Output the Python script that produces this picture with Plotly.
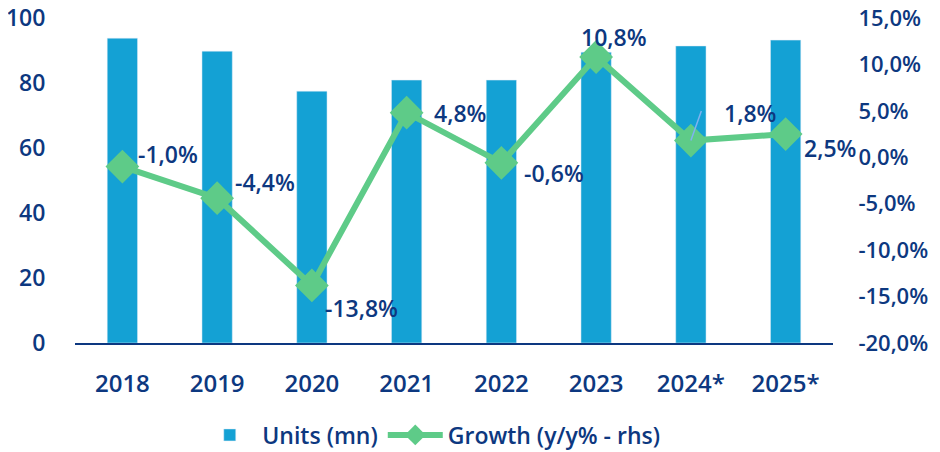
import plotly.graph_objects as go

years = ["2018", "2019", "2020", "2021", "2022", "2023", "2024*", "2025*"]
units_mn = [93.8, 89.8, 77.5, 80.9, 80.9, 89.5, 91.4, 93.2]
growth_pct = [-1.0, -4.4, -13.8, 4.8, -0.6, 10.8, 1.8, 2.5]
rhs_ticks = [-20, -15, -10, -5, 0, 5, 10, 15]

# label offsets (px) for each data label: (xshift, yshift)
label_offsets = [(46, 13), (48, 16), (50, -23), (53, 0), (53, -10), (18, 20), (59, 28), (44, -14)]

NAVY = "#0D3880"
BLUE = "#14A1D4"
GREEN = "#5ECB88"
FONT = "Open Sans"


def pct(v):
    return f"{v:.1f}".replace(".", ",") + "%"


fig = go.Figure()
fig.add_trace(go.Bar(
    x=years, y=units_mn, name="Units (mn)", marker=dict(color=BLUE),
    width=0.32,
))
fig.add_trace(go.Scatter(
    x=years, y=growth_pct, name="Growth (y/y% - rhs)", mode="lines+markers",
    line=dict(color=GREEN, width=6),
    marker=dict(symbol="diamond", size=26, color=GREEN),
    yaxis="y2",
))

# leader line for 2024* label
fig.add_annotation(
    x=6, y=growth_pct[6], yref="y2", xref="x",
    ax=11, ay=-31, axref="pixel", ayref="pixel",
    showarrow=True, arrowhead=0, arrowwidth=1.5, arrowcolor="#7FB2F0", text="",
)

# annotations on a category axis: use category index
for i, (v, (dx, dy)) in enumerate(zip(growth_pct, label_offsets)):
    fig.add_annotation(
        x=i, y=v, yref="y2", xref="x",
        text=pct(v),
        showarrow=False, xshift=dx, yshift=dy,
        font=dict(family=FONT, size=23, color=NAVY, weight=600),
    )

# the page body has an 8px margin, so the figure is 8px smaller on each axis
fig.update_layout(
    width=932, height=444,
    margin=dict(l=67, r=107, t=10, b=109, autoexpand=False),
    paper_bgcolor="white", plot_bgcolor="white",
    font=dict(family=FONT, size=21, color=NAVY, weight=600),
    showlegend=True,
    legend=dict(orientation="h", x=0.47, xanchor="center", y=-0.283, yanchor="middle",
                itemwidth=55,
                font=dict(family=FONT, size=23, color=NAVY, weight=600)),
    xaxis=dict(type="category", categoryorder="array", categoryarray=years,
               range=[-0.5, len(years) - 0.5], automargin=False,
               showgrid=False, showline=True, linecolor=NAVY, linewidth=2,
               ticks="outside", ticklen=18, tickcolor="rgba(0,0,0,0)",
               tickfont=dict(family=FONT, size=24, color=NAVY, weight=600)),
    yaxis=dict(range=[0, 100], dtick=20, showgrid=False, zeroline=False, showline=False,
               automargin=False, ticklabeloverflow="allow",
               ticks="outside", ticklen=24, tickcolor="rgba(0,0,0,0)",
               tickfont=dict(family=FONT, size=23, color=NAVY, weight=600)),
    yaxis2=dict(range=[-20, 15], overlaying="y", side="right", showgrid=False,
                zeroline=False, showline=False, automargin=False,
                ticklabeloverflow="allow",
                tickvals=rhs_ticks, ticktext=[pct(t) for t in rhs_ticks],
                ticks="outside", ticklen=20, tickcolor="rgba(0,0,0,0)",
                tickfont=dict(family=FONT, size=22, color=NAVY, weight=600)),
)

fig.write_html("out.html")
